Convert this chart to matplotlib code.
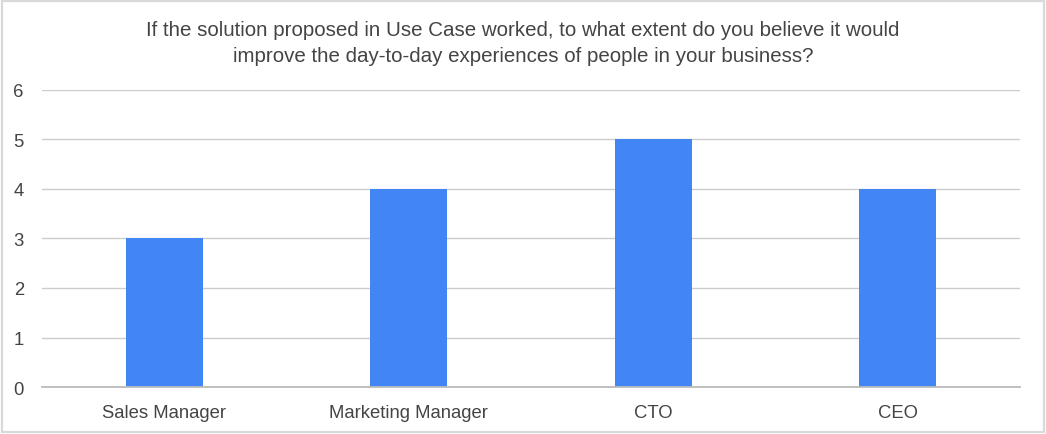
import matplotlib.pyplot as plt
from matplotlib.patches import Rectangle

plt.rcParams['font.family'] = ['Liberation Sans', 'DejaVu Sans']

roles = ['Sales Manager', 'Marketing Manager', 'CTO', 'CEO']
scores = [3, 4, 5, 4]
yticks = [0, 1, 2, 3, 4, 5, 6]
title = ('If the solution proposed in Use Case worked, to what extent do you believe it would\n'
         'improve the day-to-day experiences of people in your business?')

fig = plt.figure(figsize=(10.46, 4.35), dpi=100)
ax = fig.add_axes([0.040, 0.108, 0.935, 0.683])

ax.bar(range(len(roles)), scores, width=0.315, color='#4285f4', zorder=3)
ax.set_xlim(-0.5, len(roles) - 0.5)
ax.set_ylim(0, 6)
ax.set_yticks(yticks)
ax.set_xticks(range(len(roles)))
ax.set_xticklabels(roles)

ax.grid(axis='y', color='#cccccc', linewidth=1, zorder=0)
for s in ['top', 'right', 'left']:
    ax.spines[s].set_visible(False)
ax.spines['bottom'].set_color('#bbbbbb')
ax.spines['bottom'].set_linewidth(1.3)
ax.spines['bottom'].set_zorder(4)
ax.tick_params(length=0, labelsize=13.3, colors='#444444')
ax.tick_params(axis='y', pad=13)
ax.tick_params(axis='x', pad=12)

fig.text(0.5, 0.9, title, ha='center', va='center', fontsize=14.8,
         color='#444444', linespacing=1.45)

# light frame round the whole chart
fig.patches.append(Rectangle((0.002, 0.004), 0.996, 0.992, transform=fig.transFigure,
                             fill=False, edgecolor='#d9d9d9', linewidth=1.6))

fig.savefig('out.png', dpi=100)
